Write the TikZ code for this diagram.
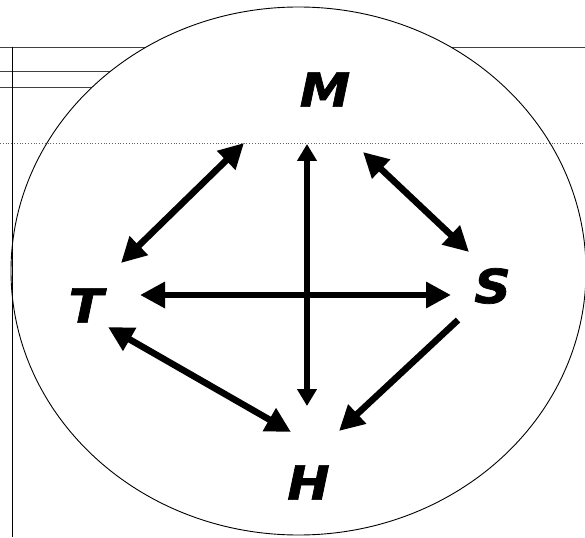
\documentclass[tikz,border=0pt]{standalone}
\usepackage{fontspec}
\usetikzlibrary{arrows.meta}
\newfontfamily\lblfont[BoldItalicFont={DejaVu Sans Bold Oblique},BoldItalicFeatures={FakeBold=1.5,FakeStretch=1.08}]{DejaVu Sans}
\tikzset{
  lbl/.style={inner sep=0pt, font=\fontsize{47}{47}\selectfont\lblfont\bfseries\itshape},
  thinrule/.style={line width=0.9pt, draw=black!75},
  bigarrow/.style={line width=6.5pt, {Triangle[length=25pt,width=25pt]}-{Triangle[length=25pt,width=25pt]}},
  onearrow/.style={line width=6.5pt, -{Triangle[length=25pt,width=25pt]}},
  vertarrow/.style={line width=5.5pt, {Triangle[length=17pt,width=19pt]}-{Triangle[length=17pt,width=19pt]}}
}
\begin{document}
\begin{tikzpicture}[x=1pt,y=-1pt]
\useasboundingbox (0,0) rectangle (585,537);
% background rules
\draw[thinrule] (0,47) -- (585,47);
\draw[thinrule] (0,71) -- (250,71);
\draw[thinrule] (0,87) -- (250,87);
% ellipse
\draw[fill=white, line width=0.9pt] (298.5,271) ellipse [x radius=287.5, y radius=264];
\draw[line width=0.9pt] (12,47) -- (12,537);
\draw[black!60, line width=0.8pt, dotted] (0,143) -- (585,143);
% labels
\node[lbl] (M) at (325,89.5) {M};
\node[lbl] (T) at (86,305.5) {T};
\node[lbl] (S) at (492.5,286) {S};
\node[lbl] (H) at (308.5,482.5) {H};
% arrow end points
\coordinate (tm1) at (121,263);
\coordinate (tm2) at (244,143);
\coordinate (mh1) at (307,144);
\coordinate (mh2) at (307,406);
\coordinate (ms1) at (363,152);
\coordinate (ms2) at (469,252);
\coordinate (ts1) at (140,295);
\coordinate (ts2) at (451,295);
\coordinate (th1) at (108,327);
\coordinate (th2) at (291,432);
\coordinate (sh1) at (458,320);
\coordinate (sh2) at (339,431);
% arrows
\draw[bigarrow] (tm1) -- (tm2);
\draw[vertarrow] (mh1) -- (mh2);
\draw[bigarrow] (ms1) -- (ms2);
\draw[bigarrow] (ts1) -- (ts2);
\draw[bigarrow] (th1) -- (th2);
\draw[onearrow] (sh1) -- (sh2);
\end{tikzpicture}
\end{document}
